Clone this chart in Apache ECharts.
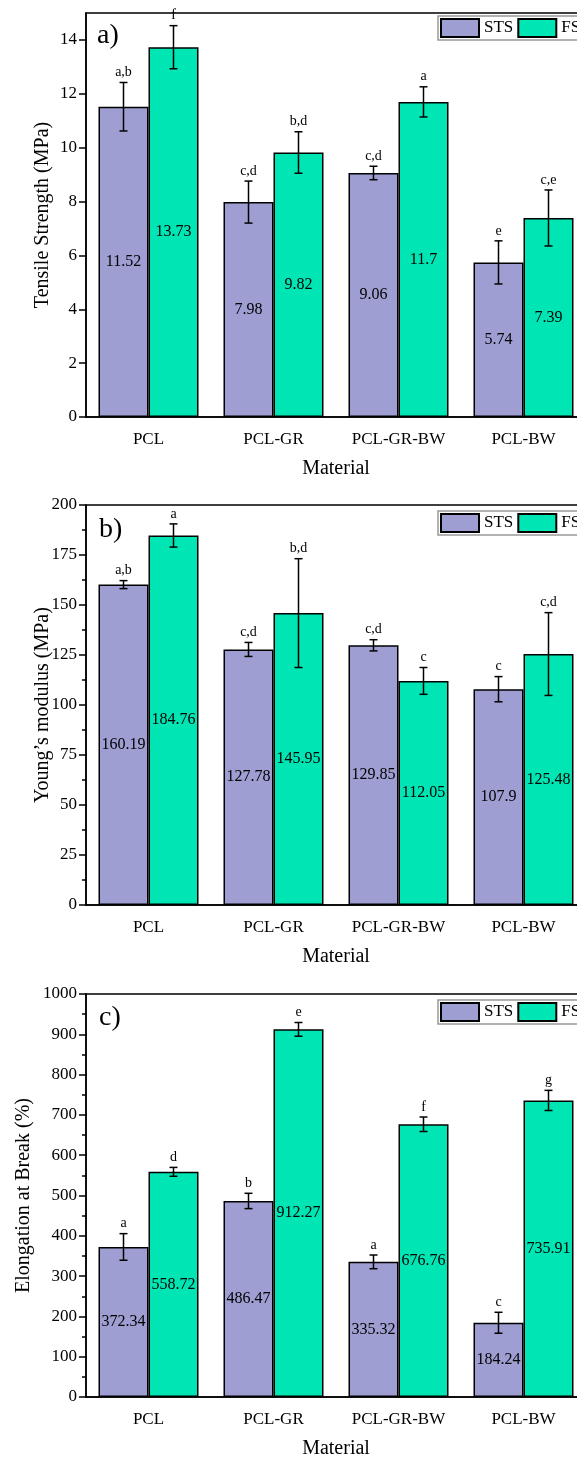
<!DOCTYPE html>
<html>
<head>
<meta charset="utf-8">
<script src="https://cdn.jsdelivr.net/npm/echarts@6/dist/echarts.min.js"></script>
<style>
  html, body { margin: 0; padding: 0; background: #fff; }
  #chart { width: 577px; height: 1459px; }
</style>
</head>
<body>
<div id="chart"></div>
<script>
var materials = ["PCL", "PCL-GR", "PCL-GR-BW", "PCL-BW"];

// a) tensile strength
var tensileSTS = [11.52, 7.98, 9.06, 5.74];
var tensileFS = [13.73, 9.82, 11.7, 7.39];
var tensileSTSErr = [0.9, 0.78, 0.25, 0.8];
var tensileFSErr = [0.8, 0.77, 0.56, 1.04];
var tensileSTSLetters = ["a,b", "c,d", "c,d", "e"];
var tensileFSLetters = ["f", "b,d", "a", "c,e"];
var tensileTicks = [0, 2, 4, 6, 8, 10, 12, 14];
var tensileMinor = [1, 3, 5, 7, 9, 11, 13];

// b) young's modulus
var modulusSTS = [160.19, 127.78, 129.85, 107.9];
var modulusFS = [184.76, 145.95, 112.05, 125.48];
var modulusSTSErr = [2, 3.5, 2.8, 6.3];
var modulusFSErr = [5.8, 27.2, 6.7, 20.7];
var modulusSTSLetters = ["a,b", "c,d", "c,d", "c"];
var modulusFSLetters = ["a", "b,d", "c", "c,d"];

// c) elongation at break
var elongSTS = [372.34, 486.47, 335.32, 184.24];
var elongFS = [558.72, 912.27, 676.76, 735.91];
var elongSTSErr = [33, 19, 17, 26];
var elongFSErr = [11, 17, 18, 25];
var elongSTSLetters = ["a", "b", "a", "c"];
var elongFSLetters = ["d", "e", "f", "g"];

var FONT = "Liberation Serif";
var STS_COLOR = "#9e9ed2";
var FS_COLOR = "#00e5b4";
var BAR_W = 50;

var grids = [
  { left: 86, top: 13, width: 500, height: 404 },
  { left: 86, top: 505, width: 500, height: 400 },
  { left: 86, top: 994, width: 500, height: 403 },
];

function xAxisFor(idx) {
  return {
    type: "category",
    gridIndex: idx,
    data: materials,
    name: "Material",
    nameLocation: "middle",
    nameGap: 42,
    nameMoveOverlap: false,
    nameTextStyle: { fontFamily: FONT, fontSize: 20, color: "#000" },
    axisLine: { lineStyle: { color: "#000", width: 1.5 } },
    axisTick: { alignWithLabel: true, length: 7, lineStyle: { color: "#000", width: 1.5 } },
    axisLabel: { fontFamily: FONT, fontSize: 17, color: "#000", margin: 14 },
    splitLine: { show: false },
  };
}

function yAxisFor(idx, name, max, interval, nameGap) {
  return {
    type: "value",
    gridIndex: idx,
    min: 0,
    max: max,
    interval: interval,
    name: name,
    nameLocation: "middle",
    nameGap: nameGap,
    nameMoveOverlap: false,
    nameTextStyle: { fontFamily: FONT, fontSize: 20, color: "#000" },
    axisLine: { show: true, lineStyle: { color: "#000", width: 1.5 } },
    axisTick: { show: true, length: 7, lineStyle: { color: "#000", width: 1.5 } },
    minorTick: { show: true, splitNumber: 2, length: 4, lineStyle: { color: "#000", width: 1.5 } },
    axisLabel: {
      fontFamily: FONT, fontSize: 17, color: "#000", margin: 9,
      formatter: function (v) { return String(v); },
    },
    splitLine: { show: false },
  };
}

var yA = yAxisFor(0, "Tensile Strength (MPa)", 15, 1, 33);
yA.axisTick.customValues = tensileTicks;
yA.axisLabel.customValues = tensileTicks;
yA.minorTick = { show: false };
// odd minor ticks for panel a on a hidden twin axis
var yAMinor = {
  type: "value", gridIndex: 0, min: 0, max: 15, interval: 1,
  axisLine: { show: false },
  axisTick: { show: true, length: 4, customValues: tensileMinor, lineStyle: { color: "#000", width: 1.5 } },
  axisLabel: { show: false },
  splitLine: { show: false },
};

function barSeries(name, color, idx, data) {
  return {
    name: name,
    type: "bar",
    xAxisIndex: idx,
    yAxisIndex: idx === 0 ? 0 : idx + 1,
    barWidth: BAR_W,
    barGap: "0%",
    itemStyle: { color: color, borderColor: "#000", borderWidth: 1.5 },
    label: {
      show: true,
      position: "inside",
      color: "#000",
      fontFamily: FONT,
      fontSize: 16,
    },
    data: data,
  };
}

function errSeries(idx, sts, fs, stsErr, fsErr, stsLetters, fsLetters) {
  var data = [];
  var letters = [];
  for (var i = 0; i < materials.length; i++) {
    data.push([i, sts[i], stsErr[i], -1]);
    letters.push(stsLetters[i]);
    data.push([i, fs[i], fsErr[i], 1]);
    letters.push(fsLetters[i]);
  }
  return {
    type: "custom",
    xAxisIndex: idx,
    yAxisIndex: idx === 0 ? 0 : idx + 1,
    z: 5,
    clip: false,
    renderItem: function (params, api) {
      var c = api.value(0), v = api.value(1), e = api.value(2), side = api.value(3);
      var hi = api.coord([c, v + e]);
      var lo = api.coord([c, v - e]);
      var x = hi[0] + side * BAR_W / 2;
      var style = { stroke: "#000", lineWidth: 1.5 };
      return {
        type: "group",
        children: [
          { type: "line", shape: { x1: x, y1: hi[1], x2: x, y2: lo[1] }, style: style },
          { type: "line", shape: { x1: x - 4, y1: hi[1], x2: x + 4, y2: hi[1] }, style: style },
          { type: "line", shape: { x1: x - 4, y1: lo[1], x2: x + 4, y2: lo[1] }, style: style },
          {
            type: "text",
            style: {
              x: x, y: hi[1] - 3,
              text: letters[params.dataIndex],
              fill: "#000",
              font: "14px " + FONT,
              align: "center",
              verticalAlign: "bottom",
            },
          },
        ],
      };
    },
    data: data,
  };
}

function legendFor(top) {
  return {
    left: 438,
    top: top,
    width: 200,
    orient: "horizontal",
    data: ["STS", "FS"],
    icon: "rect",
    itemWidth: 38,
    itemHeight: 18,
    itemGap: 4,
    padding: 2,
    borderColor: "#999",
    borderWidth: 1.5,
    textStyle: { fontFamily: FONT, fontSize: 17, color: "#000" },
  };
}

var chart = echarts.init(document.getElementById("chart"));
var option = {
  animation: false,
  backgroundColor: "#fff",
  grid: grids.map(function (g) {
    return Object.assign({
      show: true, borderColor: "#000", borderWidth: 1.5, backgroundColor: "transparent",
      outerBoundsMode: "none", containLabel: false,
    }, g);
  }),
  legend: [legendFor(16), legendFor(511), legendFor(1000)],
  xAxis: [xAxisFor(0), xAxisFor(1), xAxisFor(2)],
  yAxis: [
    yA,
    yAMinor,
    yAxisFor(1, "Young\u2019s modulus (MPa)", 200, 25, 33),
    yAxisFor(2, "Elongation at Break (%)", 1000, 100, 52),
  ],
  graphic: [
    { type: "text", left: 97, top: 22, style: { text: "a)", font: "28px " + FONT, fill: "#000" } },
    { type: "text", left: 99, top: 516, style: { text: "b)", font: "28px " + FONT, fill: "#000" } },
    { type: "text", left: 99, top: 1004, style: { text: "c)", font: "28px " + FONT, fill: "#000" } },
  ],
  series: [
    barSeries("STS", STS_COLOR, 0, tensileSTS),
    barSeries("FS", FS_COLOR, 0, tensileFS),
    errSeries(0, tensileSTS, tensileFS, tensileSTSErr, tensileFSErr, tensileSTSLetters, tensileFSLetters),
    barSeries("STS", STS_COLOR, 1, modulusSTS),
    barSeries("FS", FS_COLOR, 1, modulusFS),
    errSeries(1, modulusSTS, modulusFS, modulusSTSErr, modulusFSErr, modulusSTSLetters, modulusFSLetters),
    barSeries("STS", STS_COLOR, 2, elongSTS),
    barSeries("FS", FS_COLOR, 2, elongFS),
    errSeries(2, elongSTS, elongFS, elongSTSErr, elongFSErr, elongSTSLetters, elongFSLetters),
  ],
};
chart.setOption(option);
</script>
</body>
</html>
